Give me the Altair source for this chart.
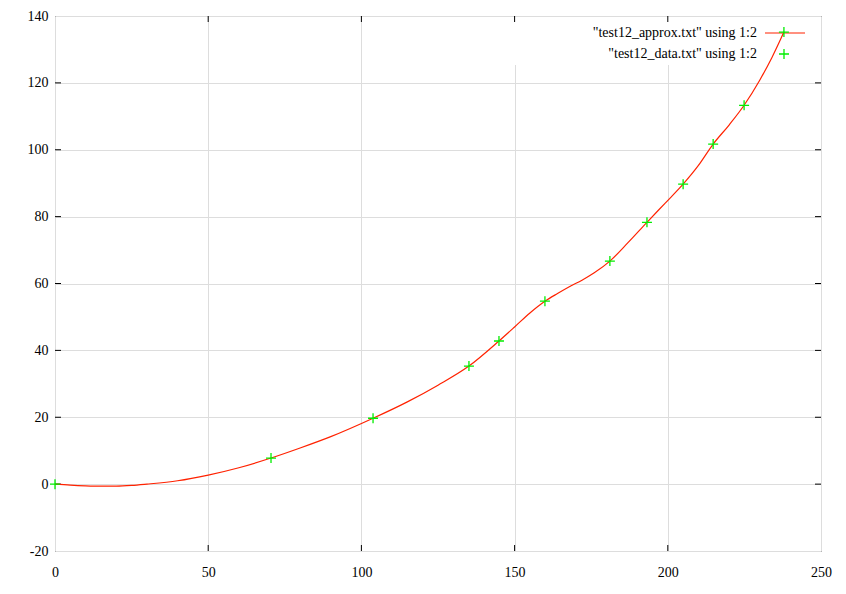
import altair as alt
import pandas as pd

# data points (test12_data.txt)
data_x = [0, 70.5, 103.8, 135.1, 144.9, 159.9, 181.1, 193.2, 205.0, 214.8, 224.9, 237.9]
data_y = [0, 7.8, 19.7, 35.3, 42.8, 54.7, 66.7, 78.3, 89.7, 101.7, 113.3, 135.2]

# approximation curve (test12_approx.txt)
approx_x = [0, 5, 10, 15, 20, 25, 30, 40, 50, 60, 70.5, 80, 90, 103.8, 115, 125, 135.1,
            144.9, 150, 155, 159.9, 164, 168, 172, 176, 181.1, 187, 193.2, 199, 205.0, 210,
            214.8, 220, 224.9, 230, 234, 237.9]
approx_y = [0, -0.3, -0.5, -0.6, -0.6, -0.4, 0, 1.0, 2.7, 4.9, 7.8, 10.8, 14.2, 19.7, 24.6,
            29.6, 35.3, 42.8, 47.0, 51.2, 54.7, 57.0, 59.1, 61.0, 63.2, 66.7, 72.2, 78.3, 83.9,
            89.7, 95.3, 101.7, 107.4, 113.3, 120.8, 127.6, 135.2]

x_ticks = [50, 100, 150, 200]
y_ticks = [-20, 0, 20, 40, 60, 80, 100, 120, 140]
legend_labels = ['"test12_approx.txt" using 1:2', '"test12_data.txt" using 1:2']

W, H = 766, 535
FONT = "Liberation Serif"
RED = "#ff2200"
GREEN = "#00ee00"

xs = alt.Scale(domain=[0, 250], nice=False, zero=False)
ys = alt.Scale(domain=[-20, 140], nice=False, zero=False)

approx = pd.DataFrame({"x": approx_x, "y": approx_y})
pts = pd.DataFrame({"x": data_x, "y": data_y})

x_axis = alt.Axis(values=[0, 50, 100, 150, 200, 250], grid=True, gridColor="#dddddd",
                  domain=False, ticks=False, labelFont=FONT, labelFontSize=14,
                  labelColor="black", labelPadding=14, title=None, labelFlush=False,
                  labelExpr="'' + datum.value")
y_axis = alt.Axis(values=y_ticks, grid=True, gridColor="#dddddd", domain=False,
                  ticks=False, labelFont=FONT, labelFontSize=14, labelColor="black",
                  labelPadding=7, title=None, labelFlush=False,
                  labelExpr="'' + datum.value")

base_grid = alt.Chart(approx).mark_line(opacity=0).encode(
    x=alt.X("x:Q", scale=xs, axis=x_axis),
    y=alt.Y("y:Q", scale=ys, axis=y_axis),
)

# white key box (covers grid like gnuplot's key)
key_box = alt.Chart(pd.DataFrame({"a": [0]})).mark_rect(color="white").encode(
    x=alt.value(452), x2=alt.value(W - 1), y=alt.value(1), y2=alt.value(49)
)

curve = alt.Chart(approx).mark_line(color=RED, strokeWidth=1.2, interpolate="monotone").encode(
    x=alt.X("x:Q", scale=xs), y=alt.Y("y:Q", scale=ys)
)

cross = "M-1,0L1,0M0,-1L0,1"
points = alt.Chart(pts).mark_point(shape=cross, size=100, color=GREEN, strokeWidth=1.3,
                                   filled=False, opacity=1).encode(
    x=alt.X("x:Q", scale=xs), y=alt.Y("y:Q", scale=ys)
)

xt = pd.DataFrame({"t": x_ticks})
yt = pd.DataFrame({"t": y_ticks[1:-1]})
tick_b = alt.Chart(xt).mark_rule(color="black").encode(
    x=alt.X("t:Q", scale=xs), y=alt.value(H), y2=alt.value(H - 6))
tick_t = alt.Chart(xt).mark_rule(color="black").encode(
    x=alt.X("t:Q", scale=xs), y=alt.value(0), y2=alt.value(6))
tick_l = alt.Chart(yt).mark_rule(color="black").encode(
    y=alt.Y("t:Q", scale=ys), x=alt.value(0), x2=alt.value(6))
tick_r = alt.Chart(yt).mark_rule(color="black").encode(
    y=alt.Y("t:Q", scale=ys), x=alt.value(W), x2=alt.value(W - 6))

leg1 = alt.Chart(pd.DataFrame({"l": [legend_labels[0]]})).mark_text(
    font=FONT, fontSize=14, align="right", baseline="middle", color="black").encode(
    text="l:N", x=alt.value(702), y=alt.value(17))
leg2 = alt.Chart(pd.DataFrame({"l": [legend_labels[1]]})).mark_text(
    font=FONT, fontSize=14, align="right", baseline="middle", color="black").encode(
    text="l:N", x=alt.value(702), y=alt.value(38))
leg_line = alt.Chart(pd.DataFrame({"a": [0]})).mark_rule(color=RED, strokeWidth=1.2).encode(
    x=alt.value(710), x2=alt.value(750), y=alt.value(17))
leg_pt = alt.Chart(pd.DataFrame({"a": [0]})).mark_point(
    shape=cross, size=100, color=GREEN, strokeWidth=1.3, filled=False, opacity=1).encode(
    x=alt.value(729), y=alt.value(38))

chart = alt.layer(
    base_grid, key_box, tick_b, tick_t, tick_l, tick_r,
    leg1, leg2, leg_line, leg_pt, curve, points
).properties(
    width=W, height=H,
    autosize=alt.AutoSizeParams(type="none"),
    padding={"left": 47, "top": 8, "right": 17, "bottom": 35},
    background="white",
).configure_view(stroke="black", strokeWidth=1)

chart.save("out.html", embed_options={"renderer": "svg", "actions": False})
